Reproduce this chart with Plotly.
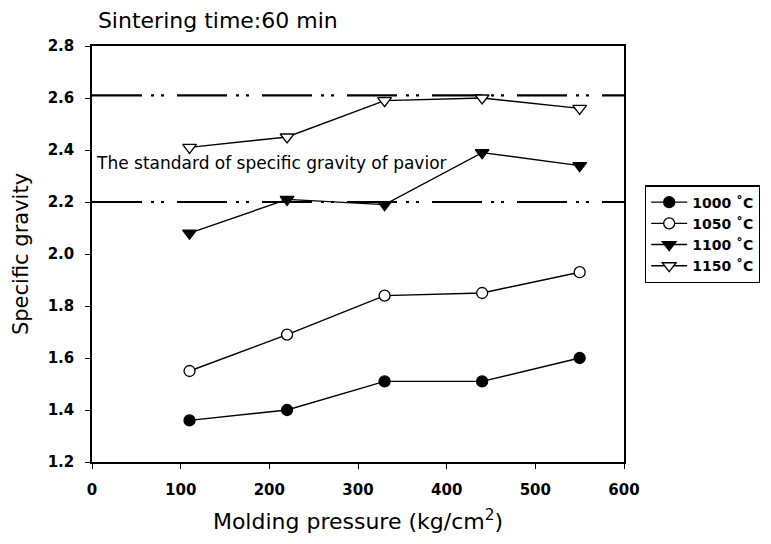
import plotly.graph_objects as go

pressure = [110, 220, 330, 440, 550]
sg_1000 = [1.36, 1.40, 1.51, 1.51, 1.60]
sg_1050 = [1.55, 1.69, 1.84, 1.85, 1.93]
sg_1100 = [2.08, 2.21, 2.19, 2.39, 2.34]
sg_1150 = [2.41, 2.45, 2.59, 2.60, 2.56]
series_names = ["1000 ˚C", "1050 ˚C", "1100 ˚C", "1150 ˚C"]

std_x = [0, 600]
std_upper = [2.61, 2.61]
std_lower = [2.20, 2.20]

x_ticks = [0, 100, 200, 300, 400, 500, 600]
y_ticks = [1.2, 1.4, 1.6, 1.8, 2.0, 2.2, 2.4, 2.6, 2.8]

FONT = "DejaVu Sans"
dash_pat = "50px,9px,3px,7px,3px,13px"

fig = go.Figure()

for yy in (std_upper, std_lower):
    fig.add_trace(go.Scatter(x=std_x, y=yy, mode="lines", showlegend=False,
                             hoverinfo="skip",
                             line=dict(color="black", width=2.2, dash=dash_pat)))

styles = [
    dict(symbol="circle", color="black", size=11),
    dict(symbol="circle", color="white", size=11),
    dict(symbol="triangle-down", color="black", size=12),
    dict(symbol="triangle-down", color="white", size=12),
]
for name, vals, st in zip(series_names, [sg_1000, sg_1050, sg_1100, sg_1150], styles):
    fig.add_trace(go.Scatter(
        x=pressure, y=vals, mode="lines+markers", name=name,
        line=dict(color="black", width=1.4),
        marker=dict(symbol=st["symbol"], color=st["color"], size=st["size"],
                    line=dict(color="black", width=1.3)),
    ))

fig.add_annotation(x=2, y=2.35, xref="x", yref="y", xanchor="left", yanchor="middle",
                   text="The standard of specific gravity of pavior", showarrow=False,
                   font=dict(family=FONT, size=17, color="black"))

fig.update_layout(
    width=771, height=544,
    margin=dict(l=92, r=146, t=46, b=82),
    plot_bgcolor="white", paper_bgcolor="white",
    font=dict(family=FONT, color="black"),
    title=dict(text="Sintering time:60 min", x=0.127, xref="container", xanchor="left",
               y=0.963, yref="container", yanchor="middle",
               font=dict(family=FONT, size=22, color="black")),
    legend=dict(x=1.0375, y=0.665, xanchor="left", yanchor="top",
                bordercolor="black", borderwidth=1.2, bgcolor="white",
                font=dict(family=FONT, size=14, color="black", weight="bold"),
                itemwidth=36, tracegroupgap=0),
    xaxis=dict(range=[0, 600], tickvals=x_ticks, ticktext=[str(v) for v in x_ticks],
               showline=True, mirror=True, linecolor="black", linewidth=1.5,
               ticks="outside", ticklen=5, tickcolor="black", showgrid=False, zeroline=False,
               tickfont=dict(family=FONT, size=15, weight="bold"),
               ticklabelstandoff=8,
               title=dict(text="Molding pressure (kg/cm<sup>2</sup>)", standoff=16,
                          font=dict(family=FONT, size=22))),
    yaxis=dict(range=[1.2, 2.8], tickvals=y_ticks, ticktext=[f"{v:.1f}" for v in y_ticks],
               showline=True, mirror=True, linecolor="black", linewidth=1.5,
               ticks="outside", ticklen=5, tickcolor="black", showgrid=False, zeroline=False,
               tickfont=dict(family=FONT, size=15, weight="bold"),
               ticklabelstandoff=8,
               title=dict(text="Specific gravity", standoff=13,
                          font=dict(family=FONT, size=21))),
)

fig.write_html("out.html")
